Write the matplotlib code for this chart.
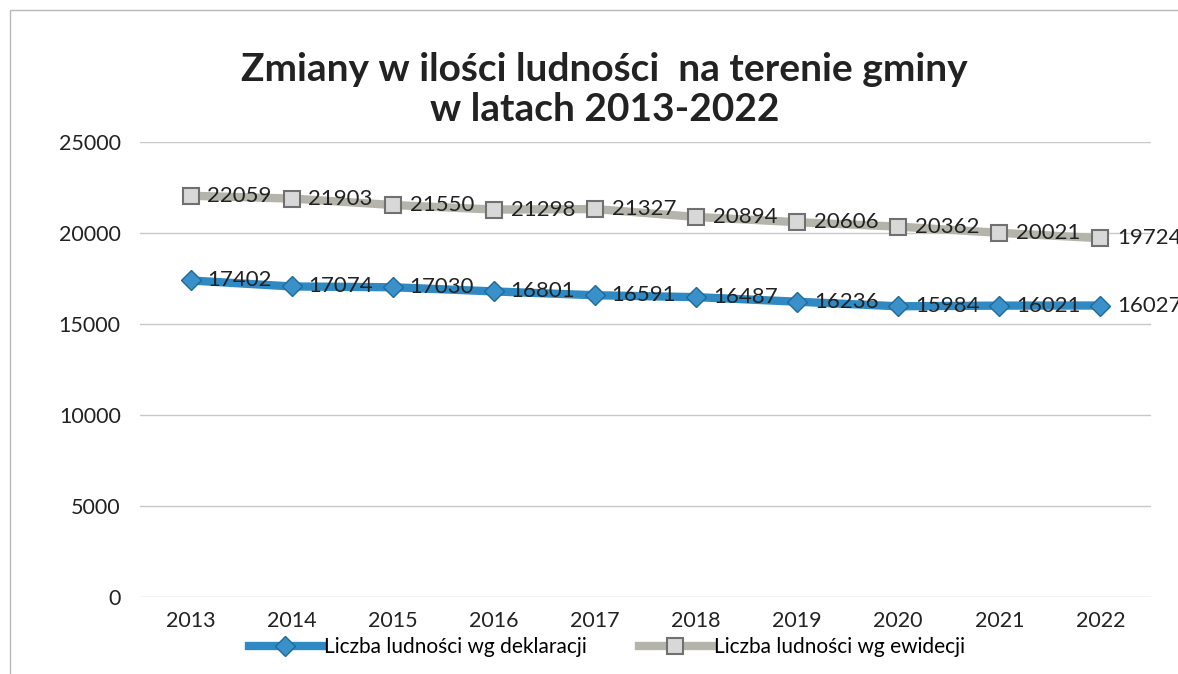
import numpy as np
import matplotlib
matplotlib.use("Agg")
import matplotlib.pyplot as plt
from matplotlib.patches import Rectangle

plt.rcParams['font.family'] = ['Lato', 'DejaVu Sans']

years = ['2013', '2014', '2015', '2016', '2017', '2018', '2019', '2020', '2021', '2022']
deklaracje = [17402, 17074, 17030, 16801, 16591, 16487, 16236, 15984, 16021, 16027]
ewidencja = [22059, 21903, 21550, 21298, 21327, 20894, 20606, 20362, 20021, 19724]

fig = plt.figure(figsize=(11.78, 6.74), dpi=100)
ax = fig.add_axes([0.119, 0.114, 0.858, 0.675])

x = np.arange(len(years))

# outer chart frame
fig.patches.append(Rectangle((10 / 1178, -0.1), 1.2, 1.085, transform=fig.transFigure,
                             fill=False, edgecolor='#b8b8b8', linewidth=1.0))

ax.plot(x, ewidencja, color='#b4b4aa', linewidth=6, marker='s', markersize=12,
        markerfacecolor='#d8d8d8', markeredgecolor='#707070', markeredgewidth=1.5,
        label='Liczba ludności wg ewidecji', zorder=3)
ax.plot(x, deklaracje, color='#2f8ac4', linewidth=6, marker='D', markersize=10,
        markerfacecolor='#3a90c8', markeredgecolor='#1f6a9c', markeredgewidth=1,
        label='Liczba ludności wg deklaracji', zorder=4)

for xi, v in zip(x, ewidencja):
    ax.annotate(str(v), (xi, v), xytext=(12, 0), textcoords='offset points',
                ha='left', va='center', fontsize=16, color='#222222', zorder=5)
for xi, v in zip(x, deklaracje):
    ax.annotate(str(v), (xi, v), xytext=(12, 0), textcoords='offset points',
                ha='left', va='center', fontsize=16, color='#222222', zorder=5)

ax.set_xlim(-0.5, len(years) - 0.5)
ax.set_ylim(0, 25000)
ax.set_yticks(range(0, 25001, 5000))
ax.set_xticks(x)
ax.set_xticklabels(years)
ax.tick_params(axis='both', length=0, labelsize=15.5, colors='#222222')
ax.tick_params(axis='y', pad=14)
ax.tick_params(axis='x', pad=10)
ax.yaxis.grid(True, color='#c8c8c8', linewidth=1)
ax.set_axisbelow(True)
for s in ax.spines.values():
    s.set_visible(False)

fig.text(0.513, 0.867, 'Zmiany w ilości ludności  na terenie gminy\nw latach 2013-2022',
         ha='center', va='center', fontsize=28, fontweight='bold', color='#222222',
         linespacing=1.15)

handles, labels = ax.get_legend_handles_labels()
fig.legend(handles[::-1], labels[::-1], loc='center', bbox_to_anchor=(0.515, 0.04),
           ncol=2, frameon=False, fontsize=15, handlelength=3.5, handletextpad=0.1,
           columnspacing=2.5)

fig.savefig('out.png', dpi=100)
